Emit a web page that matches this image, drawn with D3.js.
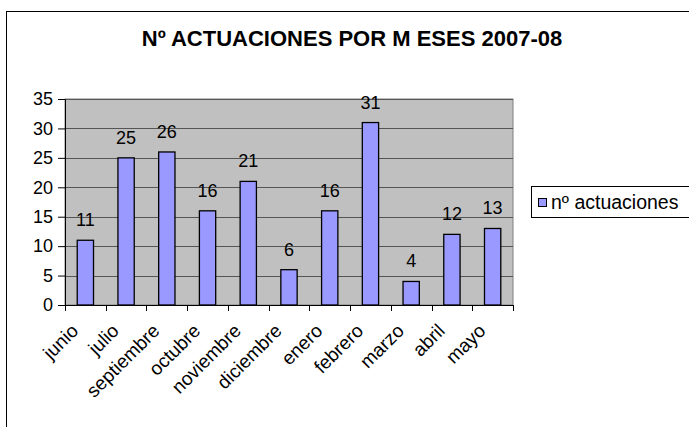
<!DOCTYPE html>
<html>
<head>
<meta charset="utf-8">
<script src="https://cdn.jsdelivr.net/npm/d3@7"></script>
<style>
  body { margin: 0; background: #fff; }
  svg { display: block; font-family: Arial, "Liberation Sans", sans-serif; }
</style>
</head>
<body>
<div id="chart"></div>
<script>
// data
const months = ["junio", "julio", "septiembre", "octubre", "noviembre", "diciembre",
                "enero", "febrero", "marzo", "abril", "mayo"];
const actuaciones = [11, 25, 26, 16, 21, 6, 16, 31, 4, 12, 13];
const yTicks = [0, 5, 10, 15, 20, 25, 30, 35];
const seriesName = "nº actuaciones";
const title = "Nº ACTUACIONES POR M ESES 2007-08";

const width = 689, height = 427;
const plot = { left: 65, top: 99, right: 513, bottom: 305 };

const svg = d3.select("#chart").append("svg")
  .attr("width", width)
  .attr("height", height);

svg.append("rect").attr("width", width).attr("height", height).attr("fill", "#fff");

// outer chart frame (runs off the right and bottom edges)
svg.append("rect")
  .attr("x", 6.5).attr("y", 11.5)
  .attr("width", 700).attr("height", 430)
  .attr("fill", "none")
  .attr("stroke", "#000")
  .attr("stroke-width", 1);

svg.append("text")
  .attr("x", 352).attr("y", 46)
  .attr("text-anchor", "middle")
  .attr("font-size", 22)
  .attr("font-weight", "bold")
  .text(title);

const x = d3.scaleBand()
  .domain(months)
  .range([plot.left, plot.right]);

const y = d3.scaleLinear()
  .domain([0, 35])
  .range([plot.bottom, plot.top]);

// plot background
svg.append("rect")
  .attr("x", plot.left).attr("y", plot.top)
  .attr("width", plot.right - plot.left)
  .attr("height", plot.bottom - plot.top)
  .attr("fill", "#c0c0c0")
  .attr("stroke", "#808080");

// gridlines
svg.append("g")
  .selectAll("line")
  .data(yTicks.filter(d => d > 0))
  .join("line")
    .attr("x1", plot.left).attr("x2", plot.right)
    .attr("y1", d => Math.round(y(d)) + 0.5)
    .attr("y2", d => Math.round(y(d)) + 0.5)
    .attr("stroke", "#555")
    .attr("stroke-width", 1);

// y axis
const yAxis = svg.append("g")
  .attr("transform", `translate(${plot.left},0)`)
  .call(d3.axisLeft(y).tickValues(yTicks).tickSize(7).tickPadding(5));
yAxis.selectAll("text").attr("font-size", 18).attr("fill", "#000").attr("font-family", "Arial, 'Liberation Sans', sans-serif");
yAxis.selectAll("line, path").attr("stroke", "#000");

// x axis: ticks at category boundaries
const bounds = months.map(m => x(m)).concat([plot.right]);
svg.append("line")
  .attr("x1", plot.left).attr("x2", plot.right)
  .attr("y1", plot.bottom + 0.5).attr("y2", plot.bottom + 0.5)
  .attr("stroke", "#000");
svg.append("g")
  .selectAll("line")
  .data(bounds)
  .join("line")
    .attr("x1", d => Math.round(d) + 0.5).attr("x2", d => Math.round(d) + 0.5)
    .attr("y1", plot.bottom).attr("y2", plot.bottom + 6)
    .attr("stroke", "#000");

svg.append("g")
  .selectAll("text")
  .data(months)
  .join("text")
    .attr("text-anchor", "end")
    .attr("font-size", 19)
    .attr("transform", d => `translate(${x(d) + x.bandwidth() / 2 - 6},${plot.bottom + 27}) rotate(-45)`)
    .text(d => d);

// bars
const barW = x.bandwidth() * 0.4;
svg.append("g")
  .selectAll("rect")
  .data(actuaciones)
  .join("rect")
    .attr("x", (d, i) => x(months[i]) + (x.bandwidth() - barW) / 2)
    .attr("y", d => y(d))
    .attr("width", barW)
    .attr("height", d => plot.bottom - y(d))
    .attr("fill", "#9999ff")
    .attr("stroke", "#000")
    .attr("stroke-width", 1.3);

// value labels
svg.append("g")
  .selectAll("text")
  .data(actuaciones)
  .join("text")
    .attr("x", (d, i) => x(months[i]) + x.bandwidth() / 2)
    .attr("y", d => y(d) - 14)
    .attr("text-anchor", "middle")
    .attr("font-size", 18)
    .text(d => d);

// legend
const lg = svg.append("g");
lg.append("rect")
  .attr("x", 531.5).attr("y", 186.5)
  .attr("width", 170).attr("height", 31)
  .attr("fill", "#fff")
  .attr("stroke", "#000");
lg.append("rect")
  .attr("x", 538.5).attr("y", 198.5)
  .attr("width", 8).attr("height", 8)
  .attr("fill", "#9999ff")
  .attr("stroke", "#000");
lg.append("text")
  .attr("x", 551).attr("y", 209)
  .attr("font-size", 19.5)
  .text(seriesName);
</script>
</body>
</html>
